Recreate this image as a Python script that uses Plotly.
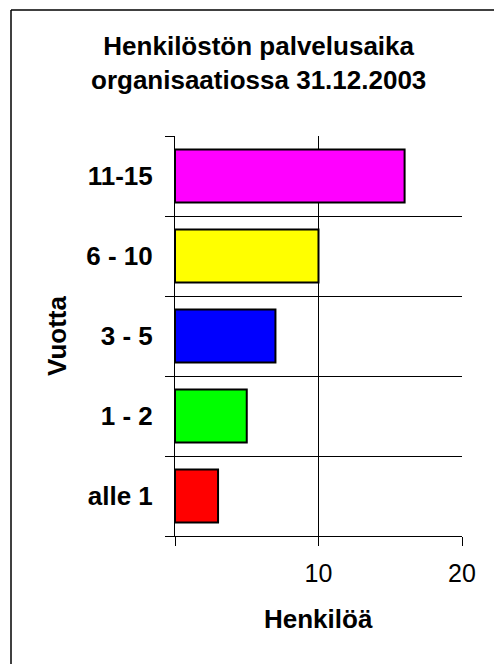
import plotly.graph_objects as go

categories = ["alle 1", "1 - 2", "3 - 5", "6 - 10", "11-15"]
values = [3, 5, 7, 10, 16]
bar_colors = ["#FF0000", "#00FF00", "#0000FF", "#FFFF00", "#FF00FF"]
x_tickvals = [0, 10, 20]
x_ticktext = ["", "10", "20"]

W, H = 494, 664
L, T = 175, 136
R = W - 462
B = H - 536
pw, ph = W - L - R, H - T - B


def px_x(sx):
    return (sx - L) / pw


def px_y(sy):
    return 1 - (sy - T) / ph


FONT = "Liberation Sans, Arial, sans-serif"

fig = go.Figure()
fig.add_trace(go.Bar(
    x=values, y=categories, orientation="h",
    marker=dict(color=bar_colors, line=dict(color="black", width=2)),
    hoverinfo="x+y",
))

border = dict(color="black", width=1.5)

fig.update_layout(
    width=W, height=H,
    margin=dict(l=L, r=R, t=T, b=B),
    paper_bgcolor="white", plot_bgcolor="white",
    font=dict(family=FONT, color="black", size=26),
    showlegend=False,
    bargap=0.34,
    xaxis=dict(
        range=[0, 20], tickvals=x_tickvals, ticktext=x_ticktext,
        ticks="outside", ticklen=9, tickcolor="black", tickwidth=1,
        showgrid=True, gridcolor="black", gridwidth=1,
        showline=True, linecolor="black", linewidth=1,
        zeroline=False, ticklabelstandoff=6,
        tickfont=dict(size=25, family=FONT),
    ),
    yaxis=dict(
        type="category", categoryorder="array", categoryarray=categories,
        range=[-0.5, 4.5], tickson="boundaries",
        ticks="outside", ticklen=9, tickcolor="black", tickwidth=1,
        showgrid=True, gridcolor="black", gridwidth=1,
        showline=True, linecolor="black", linewidth=1,
        zeroline=False, ticklabelstandoff=16,
        tickfont=dict(size=26, family=FONT, weight="bold"),
    ),
    annotations=[
        dict(text="<b>Henkilöstön palvelusaika<br>organisaatiossa 31.12.2003</b>",
             xref="paper", yref="paper", x=px_x(258), y=px_y(63),
             xanchor="center", yanchor="middle", showarrow=False,
             font=dict(size=26, family=FONT)),
        dict(text="<b>Henkilöä</b>", xref="paper", yref="paper",
             x=px_x(318), y=px_y(619),
             xanchor="center", yanchor="middle", showarrow=False,
             font=dict(size=26, family=FONT)),
        dict(text="<b>Vuotta</b>", xref="paper", yref="paper",
             x=px_x(57), y=px_y(336), textangle=-90,
             xanchor="center", yanchor="middle", showarrow=False,
             font=dict(size=26, family=FONT)),
    ],
    shapes=[
        dict(type="line", xref="paper", yref="paper",
             x0=px_x(11), x1=px_x(11), y0=px_y(H), y1=px_y(10),
             line=border, layer="below"),
        dict(type="line", xref="paper", yref="paper",
             x0=px_x(11), x1=px_x(W), y0=px_y(10), y1=px_y(10),
             line=border, layer="below"),
    ],
)

fig.write_html(
    "out.html",
    config={"displayModeBar": False},
    post_script="document.body.style.margin='0';document.body.style.overflow='hidden';",
)
